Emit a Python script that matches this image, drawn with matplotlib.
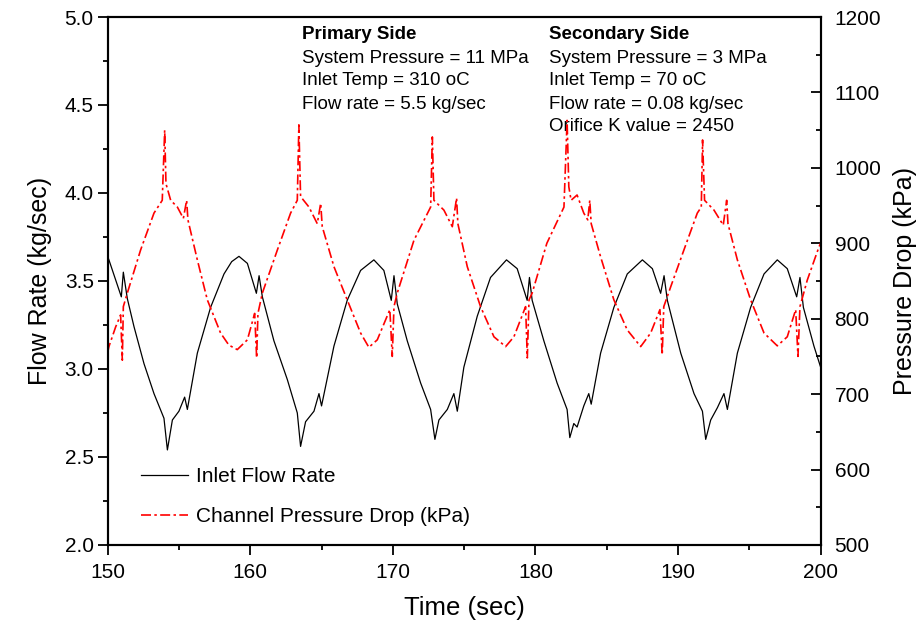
import matplotlib
matplotlib.use('Agg')
import matplotlib.pyplot as plt
from matplotlib.ticker import MultipleLocator

plt.rcParams['font.family'] = ['Liberation Sans', 'DejaVu Sans']

# inlet flow rate (kg/sec)
t_flow = [150.0, 150.09, 150.96, 151.1, 151.38, 151.85, 152.55, 153.25, 153.95, 154.19,
          154.54, 155.0, 155.4, 155.59, 156.29, 157.22, 158.16, 158.7, 159.21, 159.8,
          160.43, 160.62, 160.85, 161.66, 162.6, 163.3, 163.53, 163.88, 164.47, 164.82,
          165.0, 165.87, 166.8, 167.74, 168.67, 169.37, 169.89, 170.08, 170.31, 171.01,
          171.95, 172.65, 172.95, 173.23, 173.82, 174.28, 174.52, 174.98, 175.92, 176.85,
          177.97, 178.72, 179.42, 179.58, 179.77, 180.59, 181.52, 182.22, 182.41, 182.69,
          182.92, 183.39, 183.74, 183.91, 184.57, 185.5, 186.44, 187.5, 188.2, 188.78,
          189.02, 189.25, 190.19, 191.12, 191.71, 191.94, 192.29, 192.76, 193.22, 193.46,
          194.16, 195.09, 196.03, 196.96, 197.66, 198.32, 198.55, 198.79, 199.53, 200.0]
flow = [3.64, 3.62, 3.41, 3.55, 3.40, 3.24, 3.03, 2.86, 2.72, 2.54,
        2.71, 2.76, 2.84, 2.77, 3.09, 3.35, 3.54, 3.61, 3.64, 3.60,
        3.43, 3.53, 3.41, 3.16, 2.94, 2.75, 2.56, 2.70, 2.76, 2.86,
        2.79, 3.13, 3.39, 3.56, 3.62, 3.56, 3.39, 3.53, 3.37, 3.16,
        2.92, 2.77, 2.60, 2.71, 2.77, 2.86, 2.76, 3.01, 3.30, 3.52,
        3.62, 3.57, 3.39, 3.52, 3.39, 3.16, 2.92, 2.77, 2.61, 2.69,
        2.67, 2.79, 2.86, 2.80, 3.09, 3.35, 3.54, 3.62, 3.57, 3.43,
        3.53, 3.39, 3.09, 2.86, 2.76, 2.60, 2.71, 2.78, 2.86, 2.77,
        3.09, 3.35, 3.54, 3.62, 3.57, 3.41, 3.52, 3.35, 3.13, 3.01]

# channel pressure drop (kPa)
t_dp = [150.0, 150.09, 150.56, 150.91, 151.03, 151.1, 151.38, 152.31, 153.25, 153.83,
        154.0, 154.09, 154.42, 154.89, 155.31, 155.54, 155.63, 156.29, 156.99, 157.92,
        158.5, 159.09, 159.8, 160.31, 160.45, 160.54, 160.85, 161.9, 162.83, 163.3,
        163.41, 163.53, 164.12, 164.7, 164.94, 165.05, 165.87, 166.8, 167.74, 168.32,
        168.91, 169.79, 169.96, 170.08, 170.31, 171.48, 172.65, 172.77, 172.88, 173.58,
        174.17, 174.47, 174.56, 175.22, 176.15, 177.09, 177.91, 178.49, 179.31, 179.43,
        179.55, 179.77, 180.8, 182.0, 182.22, 182.34, 182.5, 182.92, 183.39, 183.67,
        183.81, 183.91, 184.57, 185.5, 186.44, 187.38, 188.08, 188.73, 188.89, 189.0,
        189.48, 190.41, 191.35, 191.63, 191.72, 191.86, 192.52, 193.17, 193.41, 193.5,
        194.16, 195.09, 196.03, 196.96, 197.66, 198.25, 198.41, 198.55, 199.06, 199.88,
        200.0]
dp = [755, 763, 789, 805, 745, 816, 834, 891, 940, 957,
      1050, 979, 957, 948, 933, 957, 931, 878, 825, 781,
      765, 759, 772, 807, 748, 807, 834, 891, 940, 957,
      1057, 962, 948, 926, 953, 922, 869, 825, 781, 762,
      772, 812, 750, 816, 834, 904, 948, 1041, 957, 944,
      922, 960, 926, 869, 816, 776, 763, 776, 816, 748,
      825, 834, 900, 948, 1063, 975, 957, 964, 940, 931,
      957, 926, 882, 825, 785, 763, 781, 812, 752, 816,
      842, 891, 940, 948, 1037, 957, 944, 924, 957, 926,
      878, 825, 781, 764, 776, 812, 750, 816, 851, 895,
      900]

primary = ['System Pressure = 11 MPa', 'Inlet Temp = 310 oC', 'Flow rate = 5.5 kg/sec']
secondary = ['System Pressure = 3 MPa', 'Inlet Temp = 70 oC', 'Flow rate = 0.08 kg/sec',
             'Orifice K value = 2450']

fig = plt.figure(figsize=(9.2, 6.3), dpi=100)
ax = fig.add_axes([0.117, 0.135, 0.775, 0.838])
ax2 = ax.twinx()

l1, = ax.plot(t_flow, flow, color='black', lw=0.9, label='Inlet Flow Rate')
l2, = ax2.plot(t_dp, dp, color='red', lw=1.2, linestyle=(0, (6, 2, 1.5, 2)),
               label='Channel Pressure Drop (kPa)')

ax.set_xlim(150, 200)
ax.set_ylim(2.0, 5.0)
ax2.set_ylim(500, 1200)

ax.xaxis.set_major_locator(MultipleLocator(10))
ax.xaxis.set_minor_locator(MultipleLocator(5))
ax.yaxis.set_major_locator(MultipleLocator(0.5))
ax.yaxis.set_minor_locator(MultipleLocator(0.25))
ax.yaxis.set_major_formatter('{x:.1f}')
ax2.yaxis.set_major_locator(MultipleLocator(100))
ax2.yaxis.set_minor_locator(MultipleLocator(50))

ax.tick_params(axis='both', which='major', direction='out', length=7, width=1.3, labelsize=15)
ax.tick_params(axis='both', which='minor', direction='out', length=3.5, width=1.3)
ax.tick_params(which='both', top=False, right=False)
ax.tick_params(axis='x', pad=6)
ax.tick_params(axis='y', pad=3)
ax2.tick_params(axis='y', which='both', direction='in', left=False, right=True)
ax2.tick_params(axis='y', which='major', length=7, width=1.3, labelsize=15, pad=10)
ax2.tick_params(axis='y', which='minor', length=3.5, width=1.3)

for a in (ax, ax2):
    for s in a.spines.values():
        s.set_linewidth(1.5)

ax.set_xlabel('Time (sec)', fontsize=18.5, labelpad=10)
ax.set_ylabel('Flow Rate (kg/sec)', fontsize=18, labelpad=9)
ax2.set_ylabel('Pressure Drop (kPa)', fontsize=18, labelpad=8)

ys = [0.966, 0.922, 0.879, 0.835, 0.792]
ax.text(0.2725, ys[0], 'Primary Side', transform=ax.transAxes, va='center',
        fontsize=13.5, fontweight='bold')
for y, s in zip(ys[1:], primary):
    ax.text(0.2725, y, s, transform=ax.transAxes, va='center', fontsize=13.5)
ax.text(0.619, ys[0], 'Secondary Side', transform=ax.transAxes, va='center',
        fontsize=13.5, fontweight='bold')
for y, s in zip(ys[1:], secondary):
    ax.text(0.619, y, s, transform=ax.transAxes, va='center', fontsize=13.5)

ax.legend([l1, l2], [l1.get_label(), l2.get_label()], loc='lower left',
          bbox_to_anchor=(0.02, 0.0), frameon=False, fontsize=15,
          handlelength=2.25, labelspacing=1.0, handletextpad=0.4)

fig.savefig('out.png', dpi=100)
